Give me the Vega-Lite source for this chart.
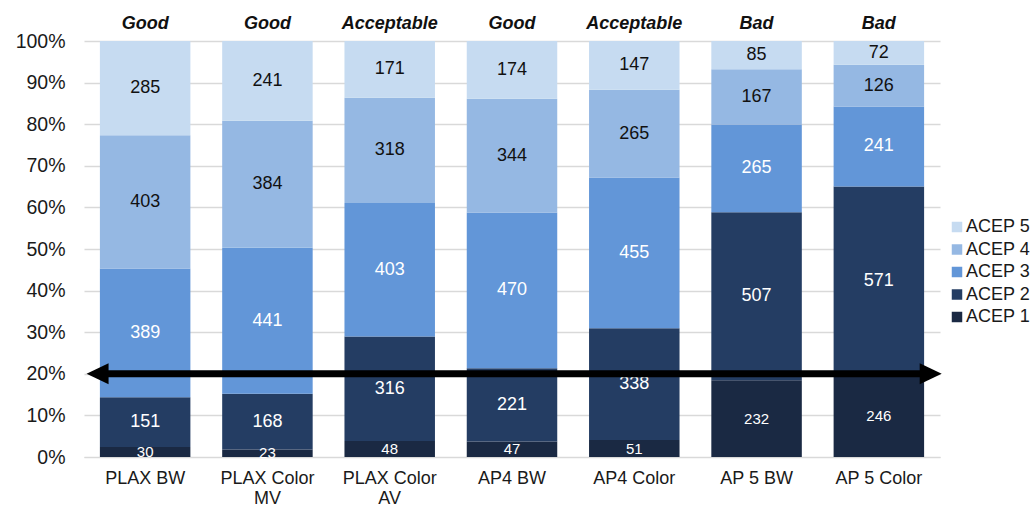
{
  "$schema": "https://vega.github.io/schema/vega-lite/v6.json",
  "width": 856,
  "height": 416,
  "autosize": {"type": "none"},
  "padding": {"left": 84, "top": 41, "right": 94, "bottom": 51},
  "config": {
    "font": "Liberation Sans",
    "view": {"stroke": null}
  },
  "layer": [
    {
      "data": {
        "values": [
          {"view": "PLAX BW", "series": "ACEP 1", "n": 30},
          {"view": "PLAX BW", "series": "ACEP 2", "n": 151},
          {"view": "PLAX BW", "series": "ACEP 3", "n": 389},
          {"view": "PLAX BW", "series": "ACEP 4", "n": 403},
          {"view": "PLAX BW", "series": "ACEP 5", "n": 285},
          {"view": "PLAX Color MV", "series": "ACEP 1", "n": 23},
          {"view": "PLAX Color MV", "series": "ACEP 2", "n": 168},
          {"view": "PLAX Color MV", "series": "ACEP 3", "n": 441},
          {"view": "PLAX Color MV", "series": "ACEP 4", "n": 384},
          {"view": "PLAX Color MV", "series": "ACEP 5", "n": 241},
          {"view": "PLAX Color AV", "series": "ACEP 1", "n": 48},
          {"view": "PLAX Color AV", "series": "ACEP 2", "n": 316},
          {"view": "PLAX Color AV", "series": "ACEP 3", "n": 403},
          {"view": "PLAX Color AV", "series": "ACEP 4", "n": 318},
          {"view": "PLAX Color AV", "series": "ACEP 5", "n": 171},
          {"view": "AP4 BW", "series": "ACEP 1", "n": 47},
          {"view": "AP4 BW", "series": "ACEP 2", "n": 221},
          {"view": "AP4 BW", "series": "ACEP 3", "n": 470},
          {"view": "AP4 BW", "series": "ACEP 4", "n": 344},
          {"view": "AP4 BW", "series": "ACEP 5", "n": 174},
          {"view": "AP4 Color", "series": "ACEP 1", "n": 51},
          {"view": "AP4 Color", "series": "ACEP 2", "n": 338},
          {"view": "AP4 Color", "series": "ACEP 3", "n": 455},
          {"view": "AP4 Color", "series": "ACEP 4", "n": 265},
          {"view": "AP4 Color", "series": "ACEP 5", "n": 147},
          {"view": "AP 5 BW", "series": "ACEP 1", "n": 232},
          {"view": "AP 5 BW", "series": "ACEP 2", "n": 507},
          {"view": "AP 5 BW", "series": "ACEP 3", "n": 265},
          {"view": "AP 5 BW", "series": "ACEP 4", "n": 167},
          {"view": "AP 5 BW", "series": "ACEP 5", "n": 85},
          {"view": "AP 5 Color", "series": "ACEP 1", "n": 246},
          {"view": "AP 5 Color", "series": "ACEP 2", "n": 571},
          {"view": "AP 5 Color", "series": "ACEP 3", "n": 241},
          {"view": "AP 5 Color", "series": "ACEP 4", "n": 126},
          {"view": "AP 5 Color", "series": "ACEP 5", "n": 72}
        ]
      },
      "transform": [
        {
          "stack": "n",
          "groupby": ["view"],
          "sort": [{"field": "series", "order": "ascending"}],
          "offset": "normalize",
          "as": ["y0", "y1"]
        },
        {"calculate": "(datum.y0 + datum.y1) / 2", "as": "mid"}
      ],
      "encoding": {
        "x": {
          "field": "view",
          "type": "nominal",
          "sort": ["PLAX BW", "PLAX Color MV", "PLAX Color AV", "AP4 BW", "AP4 Color", "AP 5 BW", "AP 5 Color"],
          "scale": {"paddingInner": 0.26, "paddingOuter": 0.13},
          "axis": {
            "title": null,
            "labelAngle": 0,
            "labelFontSize": 18,
            "labelColor": "#1a1a1a",
            "labelPadding": 12,
            "labelLineHeight": 20,
            "labelBaseline": "top",
            "ticks": false,
            "domainColor": "#d9d9d9",
            "labelExpr": "datum.label == 'PLAX Color MV' ? ['PLAX Color', 'MV'] : datum.label == 'PLAX Color AV' ? ['PLAX Color', 'AV'] : datum.label"
          }
        }
      },
      "layer": [
        {
          "mark": {"type": "bar"},
          "encoding": {
            "y": {
              "field": "y0",
              "type": "quantitative",
              "scale": {"domain": [0, 1], "nice": false},
              "axis": {
                "title": null,
                "format": ".0%",
                "values": [0, 0.1, 0.2, 0.3, 0.4, 0.5, 0.6, 0.7, 0.8, 0.9, 1],
                "labelFontSize": 19.5,
                "labelColor": "#1a1a1a",
                "labelPadding": 19,
                "ticks": false,
                "domain": false,
                "gridColor": "#d9d9d9",
                "gridWidth": 1.5
              }
            },
            "y2": {"field": "y1"},
            "color": {
              "field": "series",
              "type": "nominal",
              "scale": {
                "domain": ["ACEP 5", "ACEP 4", "ACEP 3", "ACEP 2", "ACEP 1"],
                "range": ["#c6dbf1", "#95b8e3", "#6296d8", "#243d63", "#1a2943"]
              },
              "legend": {
                "title": null,
                "orient": "none",
                "legendX": 864,
                "legendY": 177,
                "padding": 0,
                "symbolType": "square",
                "symbolSize": 110,
                "symbolStrokeWidth": 0,
                "labelFontSize": 18,
                "labelColor": "#1a1a1a",
                "labelOffset": 0,
                "rowPadding": 4.5
              }
            }
          }
        },
        {
          "mark": {"type": "text", "baseline": "middle", "align": "center"},
          "encoding": {
            "y": {"field": "mid", "type": "quantitative"},
            "text": {"field": "n", "type": "quantitative"},
            "size": {
              "condition": {"test": "datum.series == 'ACEP 1'", "value": 15},
              "value": 18
            },
            "color": {
              "condition": {"test": "datum.series == 'ACEP 4' || datum.series == 'ACEP 5'", "value": "#111111"},
              "value": "#ffffff"
            }
          }
        }
      ]
    },
    {
      "data": {
        "values": [
          {"view": "PLAX BW", "rating": "Good"},
          {"view": "PLAX Color MV", "rating": "Good"},
          {"view": "PLAX Color AV", "rating": "Acceptable"},
          {"view": "AP4 BW", "rating": "Good"},
          {"view": "AP4 Color", "rating": "Acceptable"},
          {"view": "AP 5 BW", "rating": "Bad"},
          {"view": "AP 5 Color", "rating": "Bad"}
        ]
      },
      "mark": {
        "type": "text",
        "fontSize": 18,
        "fontWeight": "bold",
        "fontStyle": "italic",
        "baseline": "middle",
        "dy": -17,
        "color": "#111111"
      },
      "encoding": {
        "x": {
          "field": "view",
          "type": "nominal",
          "sort": ["PLAX BW", "PLAX Color MV", "PLAX Color AV", "AP4 BW", "AP4 Color", "AP 5 BW", "AP 5 Color"],
          "scale": {"paddingInner": 0.26, "paddingOuter": 0.13},
          "axis": null
        },
        "y": {"datum": 1, "type": "quantitative"},
        "text": {"field": "rating", "type": "nominal"}
      }
    },
    {
      "data": {"values": [{"start": 0.015, "end": 0.985}]},
      "mark": {"type": "rule", "color": "#000000", "strokeWidth": 7, "strokeCap": "butt"},
      "encoding": {
        "x": {"field": "start", "type": "quantitative", "scale": {"domain": [0, 1], "nice": false, "zero": false}, "axis": null},
        "x2": {"field": "end"},
        "y": {"datum": 0.2, "type": "quantitative"}
      }
    },
    {
      "data": {"values": [{"pos": 0.003, "side": "left"}, {"pos": 1.002, "side": "right"}]},
      "mark": {"type": "point", "filled": true, "opacity": 1, "color": "#000000", "size": 484},
      "encoding": {
        "x": {"field": "pos", "type": "quantitative", "scale": {"domain": [0, 1], "nice": false, "zero": false}, "axis": null},
        "y": {"datum": 0.2, "type": "quantitative"},
        "shape": {
          "field": "side",
          "type": "nominal",
          "scale": {"domain": ["left", "right"], "range": ["M0,0L2,-0.95L2,0.95Z", "M0,0L-2,-0.95L-2,0.95Z"]},
          "legend": null
        }
      }
    }
  ],
  "resolve": {"scale": {"x": "independent", "color": "independent", "shape": "independent"}}
}
